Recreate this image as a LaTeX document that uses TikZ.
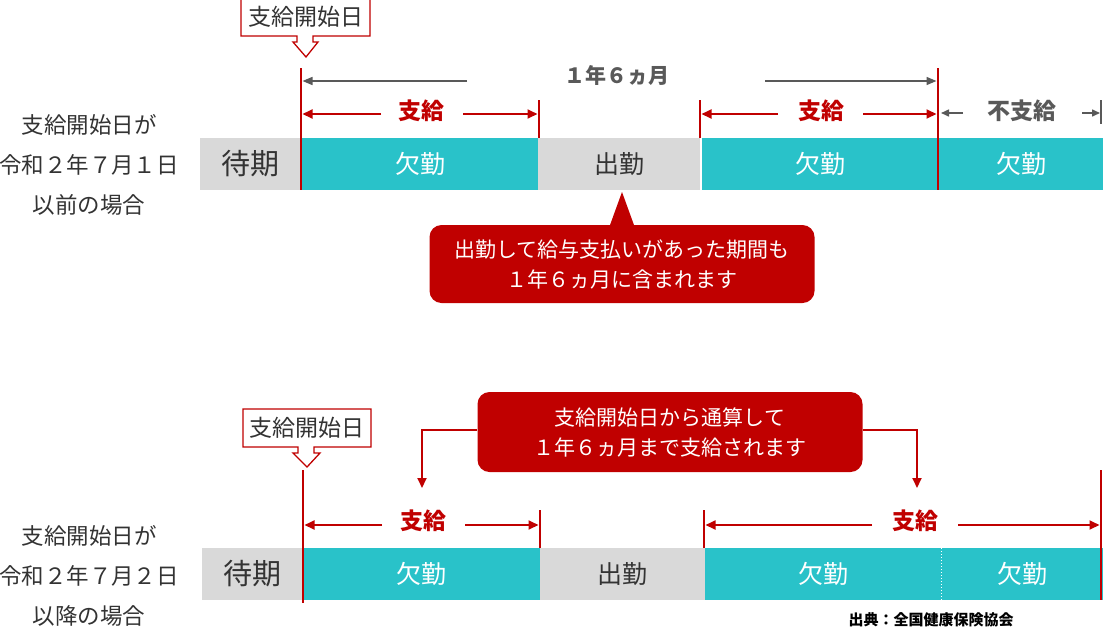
\documentclass[tikz,border=0pt]{standalone}
\usepackage{fontspec}
\setmainfont{Noto Sans CJK JP}
\usetikzlibrary{arrows.meta}
\definecolor{teal1}{HTML}{29C2C9}
\definecolor{gray1}{HTML}{D9D9D9}
\definecolor{red1}{HTML}{C00000}
\definecolor{txt}{HTML}{333333}
\definecolor{arr}{HTML}{595959}
\begin{document}
\begin{tikzpicture}[x=1pt,y=-1pt,
  seg/.style={minimum height=52pt, inner sep=0pt, outer sep=0pt},
  absent/.style={seg, fill=teal1, text=white, font=\fontsize{25}{28}\selectfont},
  present/.style={seg, fill=gray1, text=txt, font=\fontsize{25}{28}\selectfont},
  waiting/.style={seg, fill=gray1, text=txt, font=\fontsize{29}{32}\selectfont},
  bigline/.style={draw=red1, line width=2.6pt},
  tickline/.style={draw=red1, line width=1.6pt},
  redarr/.style={draw=red1, line width=1.8pt, -{Triangle[length=10pt,width=9pt]}, shorten >=1.5pt},
  grayarr/.style={draw=arr, line width=1.5pt, -{Triangle[length=10pt,width=8pt]}, shorten >=1.5pt},
  smallgray/.style={draw=arr, line width=1.5pt, -{Triangle[length=8pt,width=7pt]}},
  paylab/.style={text=red1, font=\fontsize{23}{26}\selectfont\bfseries},
  graylab/.style={text=arr, font=\fontsize{21}{24}\selectfont\bfseries},
  sidelab/.style={text=txt, align=center, font=\fontsize{22.5}{40}\selectfont},
  bubble/.style={fill=red1, rounded corners=12pt, text=white, align=center, font=\fontsize{21}{30}\selectfont, minimum width=385pt},
  markbox/.style={text=txt, font=\fontsize{23}{26}\selectfont},
  markshape/.style={draw=red1, line width=1.3pt, fill=white}
]
\useasboundingbox (0,0) rectangle (1103,630);

% ---------- top case ----------
\node[sidelab] (s1) at (89,165) {支給開始日が\\令和２年７月１日\\以前の場合};

\node[waiting, minimum width=101pt] (w1) at (250.5,164) {待期};
\node[absent, minimum width=236pt] (a11) at (420,164) {欠勤};
\node[present, minimum width=162pt] (p1) at (619,164) {出勤};
\node[absent, minimum width=236pt] (a12) at (820,164) {欠勤};
\node[absent, minimum width=164pt] (a13) at (1021,164) {欠勤};

\begin{scope}[shift={(306,17)}]
  \draw[markshape] (-65,-19) -- (64,-19) -- (64,19) -- (7,19) -- (7,25) -- (12,25) -- (0,40) -- (-13,25) -- (-9,25) -- (-9,19) -- (-65,19) -- cycle;
  \node[markbox] (m1) at (0,0) {支給開始日};
\end{scope}

\coordinate (v1t) at (301,68);  \coordinate (v1b) at (301,190);
\coordinate (v2t) at (539,100); \coordinate (v2b) at (539,138);
\coordinate (v3t) at (700,100); \coordinate (v3b) at (700,138);
\coordinate (v4t) at (938,68);  \coordinate (v4b) at (938,190);
\coordinate (v5t) at (1101,100); \coordinate (v5b) at (1101,124);
\draw[bigline] (v1t) -- (v1b);
\draw[tickline] (v2t) -- (v2b);
\draw[tickline] (v3t) -- (v3b);
\draw[bigline] (v4t) -- (v4b);
\draw[draw=arr, line width=1.5pt] (v5t) -- (v5b);

\node[graylab] (yr) at (617,75) {１年６ヵ月};
\coordinate (g1) at (467,81); \coordinate (g2) at (765,81);
\draw[grayarr] (g1) -- (v1t |- g1);
\draw[grayarr] (g2) -- (v4t |- g2);

\node[paylab] (pay1) at (421,111) {支給};
\coordinate (r1a) at (381,114); \coordinate (r1b) at (463,114);
\draw[redarr] (r1a) -- (v1t |- r1a);
\draw[redarr] (r1b) -- (v2t |- r1b);

\node[paylab] (pay2) at (821,111) {支給};
\coordinate (r2a) at (778,114); \coordinate (r2b) at (863,114);
\draw[redarr] (r2a) -- (v3t |- r2a);
\draw[redarr] (r2b) -- (v4t |- r2b);

\node[graylab, font=\fontsize{23}{26}\selectfont\bfseries] (np) at (1022,111) {不支給};
\coordinate (n1a) at (963,113); \coordinate (n1b) at (1082,113);
\draw[smallgray] (n1a) -- ([xshift=3pt]v4t |- n1a);
\draw[smallgray] (n1b) -- ([xshift=-1pt]v5t |- n1b);

\node[bubble, minimum height=78pt] (b1) at (622,264) {出勤して給与支払いがあった期間も\\１年６ヵ月に含まれます};
\coordinate (tip1) at (622,192);
\fill[red1] ([xshift=-13pt,yshift=-3pt]b1.north) -- (tip1) -- ([xshift=13pt,yshift=-3pt]b1.north) -- cycle;

% ---------- bottom case ----------
\node[sidelab] (s2) at (89,576) {支給開始日が\\令和２年７月２日\\以降の場合};

\node[waiting, minimum width=101pt] (w2) at (252.5,574) {待期};
\node[absent, minimum width=237pt] (a21) at (421.5,574) {欠勤};
\node[present, minimum width=165pt] (p2) at (622.5,574) {出勤};
\node[absent, minimum width=236pt] (a22) at (823,574) {欠勤};
\node[absent, minimum width=162pt] (a23) at (1022,574) {欠勤};
\draw[white, dotted, line width=1pt] (a22.north east) -- (a22.south east);

\begin{scope}[shift={(307,428)}]
  \draw[markshape] (-64,-19) -- (64,-19) -- (64,19) -- (7,19) -- (7,25) -- (13,25) -- (0,39) -- (-14,25) -- (-9,25) -- (-9,19) -- (-64,19) -- cycle;
  \node[markbox] (m2) at (0,0) {支給開始日};
\end{scope}

\coordinate (u1t) at (303,470);  \coordinate (u1b) at (303,603);
\coordinate (u2t) at (540,510);  \coordinate (u2b) at (540,548);
\coordinate (u3t) at (704,510);  \coordinate (u3b) at (704,548);
\coordinate (u4t) at (1101,470); \coordinate (u4b) at (1101,600);
\draw[bigline] (u1t) -- (u1b);
\draw[tickline] (u2t) -- (u2b);
\draw[tickline] (u3t) -- (u3b);
\draw[bigline] (u4t) -- (u4b);

\node[paylab] (pay3) at (423,521) {支給};
\coordinate (r3a) at (382,525); \coordinate (r3b) at (465,525);
\draw[redarr] (r3a) -- (u1t |- r3a);
\draw[redarr] (r3b) -- (u2t |- r3b);

\node[paylab] (pay4) at (915,521) {支給};
\coordinate (r4a) at (872,525); \coordinate (r4b) at (958,525);
\draw[redarr] (r4a) -- (u3t |- r4a);
\draw[redarr] (r4b) -- (u4t |- r4b);

\node[bubble, minimum height=80pt] (b2) at (670,432) {支給開始日から通算して\\１年６ヵ月まで支給されます};
\coordinate (e1) at (422,488); \coordinate (e2) at (917,488);
\draw[draw=red1, line width=1.8pt, -{Triangle[length=10pt,width=9pt]}] ([yshift=2pt]b2.west) -| (e1);
\draw[draw=red1, line width=1.8pt, -{Triangle[length=10pt,width=9pt]}] ([yshift=2pt]b2.east) -| (e2);

\node[font=\fontsize{15}{17}\selectfont\bfseries, text=black] (src) at (931,620) {出典：全国健康保険協会};
\end{tikzpicture}
\end{document}
